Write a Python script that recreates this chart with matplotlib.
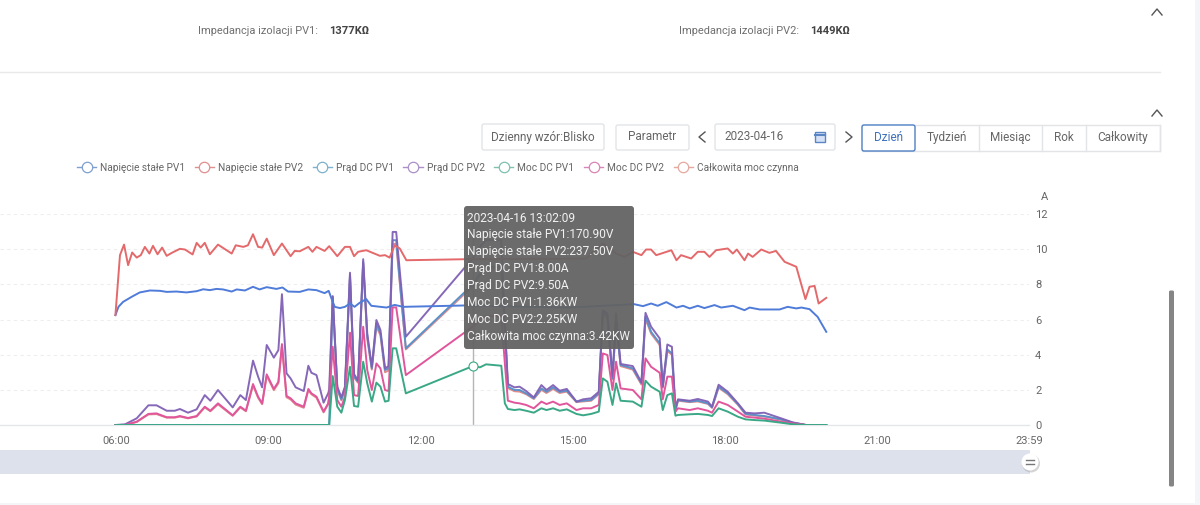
import matplotlib
matplotlib.use("Agg")
import matplotlib.pyplot as plt
from matplotlib.lines import Line2D
from matplotlib.patches import FancyBboxPatch, Rectangle, Circle

plt.rcParams['font.family'] = ['Roboto', 'DejaVu Sans']

# ---------- data (hours of day, values on the "A" scale) ----------
t_v2 = [5.99,6.08,6.16,6.24,6.32,6.41,6.49,6.57,6.66,6.73,6.82,6.91,7.00,7.10,7.26,7.36,7.51,7.59,7.67,7.75,7.85,8.01,8.28,8.36,8.51,8.60,8.70,8.80,8.88,8.97,9.11,9.27,9.44,9.52,9.62,9.79,9.87,9.95,10.11,10.20,10.36,10.51,10.61,10.69,10.77,10.93,11.20,11.30,11.39,11.49,11.59,11.72,12.90,14.50,15.26,15.59,15.85,16.02,16.18,16.35,16.44,16.54,16.64,16.74,16.94,17.04,17.13,17.33,17.46,17.59,17.69,17.82,18.05,18.15,18.23,18.38,18.45,18.54,18.71,18.87,19.00,19.17,19.40,19.58,19.66,19.76,19.84,19.99]
v_pv2 = [6.25,9.66,10.26,9.09,9.81,9.52,9.66,10.13,9.75,10.19,9.71,10.09,9.62,9.79,10.02,9.98,9.70,10.36,10.09,10.36,9.71,10.26,9.75,10.22,10.13,10.22,10.85,10.13,10.09,10.60,9.66,10.32,9.60,9.90,9.88,10.13,9.85,10.13,9.90,10.17,9.60,10.13,10.13,9.60,9.85,9.94,9.62,9.66,9.52,10.22,10.04,9.37,9.43,9.45,9.47,10.32,9.75,9.56,9.85,9.66,9.98,9.98,9.66,9.75,9.94,9.37,9.66,9.47,9.85,9.85,9.56,9.94,10.04,9.75,9.98,9.37,9.75,9.56,9.98,9.79,9.90,9.28,9.00,7.16,7.86,7.91,6.91,7.23]

t_v1 = [5.99,6.05,6.14,6.31,6.47,6.67,6.87,7.00,7.19,7.39,7.59,7.72,7.85,7.98,8.11,8.28,8.38,8.54,8.70,8.83,8.97,9.16,9.28,9.39,9.62,9.79,9.95,10.11,10.19,10.27,10.31,10.41,10.51,10.61,10.70,10.80,10.93,11.03,11.33,11.49,11.66,12.90,14.94,15.59,16.21,16.38,16.54,16.67,16.84,17.04,17.17,17.30,17.46,17.59,17.79,17.92,18.15,18.38,18.48,18.68,19.07,19.23,19.40,19.50,19.66,19.82,19.99]
v_pv1 = [6.25,6.72,7.00,7.29,7.54,7.65,7.63,7.57,7.59,7.54,7.61,7.72,7.67,7.74,7.71,7.59,7.71,7.65,7.86,7.71,7.84,7.74,7.82,7.59,7.57,7.71,7.67,7.50,7.63,7.00,6.72,6.65,6.72,6.91,6.72,6.95,7.16,6.78,6.68,6.83,6.72,6.80,6.68,6.78,6.87,6.76,6.91,6.78,6.99,6.68,6.78,6.63,6.78,6.65,6.82,6.68,6.78,6.53,6.68,6.57,6.57,6.72,6.63,6.68,6.59,6.15,5.30]

t_p = [5.99,6.18,6.41,6.64,6.80,7.00,7.16,7.26,7.42,7.59,7.75,7.86,8.01,8.30,8.45,8.56,8.70,8.80,8.88,8.97,9.11,9.20,9.27,9.36,9.44,9.54,9.70,9.79,9.85,9.95,10.09,10.18,10.20,
       10.27,10.36,10.44,10.51,10.61,10.69,10.77,10.87,10.95,11.04,11.13,11.21,11.30,11.37,11.45,11.52,11.71,
       13.03,13.17,13.29,13.59,13.66,
       13.72,13.85,13.95,14.08,14.23,14.38,14.48,14.61,14.74,14.88,15.07,15.20,15.36,15.51,15.59,15.68,15.78,15.85,15.94,16.18,16.35,16.43,16.54,16.71,16.77,16.86,16.95,17.02,17.07,17.30,17.46,17.66,17.74,17.87,18.05,18.25,18.40,18.58,18.77,19.10,19.33,19.59,19.99]
i_pv1 = [0,0,0,0,0,0,0,0,0,0,0,0,0,0,0,0,0,0,0,0,0,0,0,0,0,0,0,0,0,0,0,0,0,
         7.29,2.08,1.46,2.08,8.52,2.75,2.46,9.28,5.02,3.22,5.78,5.21,3.13,3.22,10.51,10.51,4.36,
         8.00,8.60,9.00,9.00,5.60,
         2.18,1.99,1.99,1.80,1.52,2.08,1.89,2.14,1.88,1.95,1.33,1.38,1.42,1.80,6.44,6.16,2.65,5.87,3.41,3.22,2.37,6.16,5.30,4.64,2.18,4.30,4.07,.85,1.42,1.33,1.38,1.23,1.00,2.18,1.80,1.19,.63,.57,.51,.32,.13,0,0]
i_pv2 = [0,.04,.38,1.12,1.12,.81,.81,.91,.70,.89,1.70,1.38,1.99,1.00,1.70,1.42,3.66,2.75,2.14,4.55,3.83,4.26,7.44,2.94,2.65,2.14,1.93,3.37,2.97,2.84,1.27,1.80,1.99,
         7.33,2.18,1.57,2.18,8.66,2.90,2.52,9.43,5.21,3.31,5.97,5.40,3.22,3.35,10.98,10.98,5.02,
         9.50,10.13,10.51,10.51,5.78,
         2.33,2.14,2.18,1.93,1.57,2.27,1.99,2.27,1.95,2.05,1.33,1.46,1.52,1.89,6.53,6.34,2.75,6.34,3.47,3.35,2.42,6.38,5.59,4.92,2.18,4.58,4.45,.95,1.46,1.38,1.48,1.33,1.04,2.29,1.89,1.23,.70,.66,.70,.38,.15,0,0]
p_pv1 = [0,0,0,0,0,0,0,0,0,0,0,0,0,0,0,0,0,0,0,0,0,0,0,0,0,0,0,0,0,0,0,0,0,
         2.78,1.04,.70,1.42,3.31,1.08,1.04,3.60,2.37,1.33,2.41,2.18,1.33,1.38,4.36,4.36,1.80,
         3.35,3.28,3.45,3.37,1.23,
         .91,.85,.89,.81,.70,.95,.85,.95,.81,.89,.63,.55,.63,.76,2.65,2.46,1.14,2.37,1.38,1.33,1.04,2.52,2.18,1.89,.85,1.70,1.80,.53,.57,.61,.63,.57,.51,.95,.76,.47,.32,.28,.25,.13,.04,0,0]
p_pv2 = [0,0,.19,.63,.66,.44,.44,.51,.40,.51,1.04,.81,1.23,.55,1.04,.81,2.33,1.61,1.23,2.88,2.05,2.46,4.60,1.65,1.52,1.23,1.04,2.05,1.80,1.61,.76,1.23,1.61,
         4.45,1.42,1.04,1.61,5.25,1.70,1.65,5.59,3.13,1.99,3.50,3.22,1.99,1.93,6.69,6.69,2.84,
         5.60,6.00,6.20,6.20,3.50,
         1.38,1.27,1.23,1.14,.95,1.33,1.19,1.33,1.14,1.23,.85,.95,.95,1.14,4.07,3.98,1.99,3.60,2.08,1.99,1.46,3.79,3.31,2.97,1.46,2.75,2.75,.76,.95,.85,.95,.81,.70,1.33,1.14,.76,.47,.42,.36,.19,.09,0,0]
p_total = [0,0,.17,.6,.62,.42,.42,.48,.38,.48,1.0,.78,1.18,.52,1.0,.78,2.25,1.55,1.18,2.8,1.98,2.38,4.5,1.58,1.45,1.16,.98,1.98,1.75,1.55,.72,1.18,1.55,
           7.2,2.0,1.4,2.0,8.4,2.7,2.4,9.2,4.9,3.15,5.6,5.1,3.0,3.1,10.3,10.3,4.3,
           7.9,8.5,8.9,8.9,5.5,
           2.1,1.92,1.9,1.75,1.48,2.0,1.82,2.05,1.82,1.9,1.3,1.34,1.38,1.75,6.35,6.1,2.6,5.8,3.35,3.15,2.3,6.05,5.2,4.55,2.12,4.2,4.0,.82,1.38,1.3,1.34,1.2,.98,2.12,1.75,1.15,.6,.54,.48,.3,.12,0,0]

names = ["Napięcie stałe PV1", "Napięcie stałe PV2", "Prąd DC PV1", "Prąd DC PV2",
         "Moc DC PV1", "Moc DC PV2", "Całkowita moc czynna"]
colors = ["#4f7bd9", "#e4696b", "#5b93c9", "#8060b5", "#3aa886", "#e0569c", "#e08a8c"]
legend_colors = ["#7f9fd0", "#e08f8f", "#7fb0cc", "#ab90c8", "#7fc0ae", "#d985b5", "#e5a8a0"]
tick_hours = [6, 9, 12, 15, 18, 21, 23.983]
tick_names = ["06:00", "09:00", "12:00", "15:00", "18:00", "21:00", "23:59"]
y_ticks = [0, 2, 4, 6, 8, 10, 12]
cursor_hour = 13.03
cursor_value = 3.35
tooltip_lines = ["2023-04-16 13:02:09", "Napięcie stałe PV1:170.90V", "Napięcie stałe PV2:237.50V",
                 "Prąd DC PV1:8.00A", "Prąd DC PV2:9.50A", "Moc DC PV1:1.36KW",
                 "Moc DC PV2:2.25KW", "Całkowita moc czynna:3.42KW"]

W, H = 1200, 505
fig = plt.figure(figsize=(W / 100, H / 100), dpi=100, facecolor="white")

# ---------- chart ----------
ax = fig.add_axes([0, 1 - 425 / H, 1029 / W, (425 - 214) / H], facecolor="none")
ax.set_xlim(3.717, 23.983)
ax.set_ylim(0, 12)
for s in ["top", "left", "right"]:
    ax.spines[s].set_visible(False)
ax.spines["bottom"].set_color("#e4e6ea")
ax.spines["bottom"].set_linewidth(1)
ax.yaxis.tick_right()
ax.set_yticks(y_ticks)
ax.set_xticks(tick_hours)
ax.set_xticklabels(tick_names)
ax.tick_params(axis="both", length=0, labelsize=8, labelcolor="#666666")
ax.tick_params(axis="x", pad=8)
ax.tick_params(axis="y", pad=4.4)
ax.set_axisbelow(True)
ax.grid(axis="y", color="#eeeeee", linestyle=(0, (3, 3)), linewidth=0.8)
ax.text(1.0118, 1.08, "A", transform=ax.transAxes, fontsize=8, color="#666666", ha="left", va="center")

lw = 1.4
ax.plot(t_v1, v_pv1, color=colors[0], lw=lw, zorder=4)
ax.plot(t_v2, v_pv2, color=colors[1], lw=lw, zorder=4)
ax.plot(t_p, p_total, color=colors[6], lw=lw, zorder=2)
ax.plot(t_p, i_pv1, color=colors[2], lw=lw, zorder=2.5)
ax.plot(t_p, i_pv2, color=colors[3], lw=lw, alpha=0.95, zorder=3)
ax.plot(t_p, p_pv2, color=colors[5], lw=lw, zorder=3)
ax.plot(t_p, p_pv1, color=colors[4], lw=lw, zorder=3.6)
ax.axvline(cursor_hour, color="#b5b5b5", lw=1, zorder=1)
ax.plot([cursor_hour], [cursor_value], marker="o", ms=6.5, mfc="white", mec=colors[4], mew=0.8, zorder=5)

handles = [Line2D([0], [0], color=c, lw=1, marker="o", ms=7.5, mfc="white", mec=c, mew=0.9) for c in legend_colors]
fig.legend(handles, names, loc="center left", bbox_to_anchor=(77 / W, 1 - 168 / H), ncol=7, frameon=False,
           fontsize=7.3, labelcolor="#666666", handlelength=1.88, handletextpad=0.4, columnspacing=0.95,
           borderpad=0, borderaxespad=0)

# ---------- page furniture, in pixels ----------
ui = fig.add_axes([0, 0, 1, 1], facecolor="none", zorder=10)
ui.set_xlim(0, W)
ui.set_ylim(H, 0)
ui.axis("off")

def label(x, y, s, size=8.5, color="#666666", ha="left", **kw):
    ui.text(x, y, s, fontsize=size, color=color, ha=ha, va="center", **kw)

def box(x0, y0, x1, y1, ec="#e2e4e8", rad=2, lw=1, fc="white"):
    ui.add_patch(FancyBboxPatch((x0 + rad, y0 + rad), x1 - x0 - 2 * rad, y1 - y0 - 2 * rad,
                                boxstyle=f"round,pad={rad},rounding_size={rad}", fc=fc, ec=ec, lw=lw))

def chevron(xs, ys, color="#555555"):
    ui.plot(xs, ys, color=color, lw=1)

label(198, 31, "Impedancja izolacji PV1:", size=7.9, color="#707070")
label(329, 31, "1377KΩ", size=8, color="#444444", weight="bold")
label(679, 31, "Impedancja izolacji PV2:", size=7.9, color="#707070")
label(810, 31, "1449KΩ", size=8, color="#444444", weight="bold")
ui.plot([0, 1160], [72, 72], color="#e9e9e9", lw=1)
chevron([1152, 1157, 1162], [15, 9, 15])
chevron([1152, 1157, 1162], [116, 110, 116])

box(482, 124, 604, 150)
label(543, 137, "Dzienny wzór:Blisko", ha="center")
box(616, 125, 689, 150)
label(652.5, 137, "Parametr", ha="center")
chevron([705, 699, 705], [132, 137, 142])
box(715, 124, 835, 150)
label(724, 137, "2023-04-16")
ui.add_patch(Rectangle((815, 132), 10, 10, fc="#d5e2f5", ec="#5b86c5", lw=1))
ui.plot([815, 825], [134.5, 134.5], color="#5b86c5", lw=1.5)
chevron([846, 852, 846], [132, 137, 142])

tabs = [("Dzień", 862, 915), ("Tydzień", 915, 979), ("Miesiąc", 979, 1042), ("Rok", 1042, 1086), ("Całkowity", 1086, 1160)]
ui.add_patch(Rectangle((862, 125), 298, 26, fc="white", ec="#e2e4e8", lw=1))
for name, x0, x1 in tabs[1:]:
    ui.plot([x1, x1], [125, 151], color="#e2e4e8", lw=1)
    label((x0 + x1) / 2, 137.5, name, ha="center")
box(862, 125, 915, 151, ec="#4f80c4", rad=2)
label(888.5, 137.5, "Dzień", ha="center", color="#3f72bd")

# zoom slider
ui.add_patch(Rectangle((0, 450), 1030, 24, fc="#dde1eb", ec="none"))
ui.add_patch(Circle((1031, 463.5), 9, fc="#aaaaaa", ec="none", alpha=0.5))
ui.add_patch(Circle((1030, 462), 8.5, fc="white", ec="none"))
ui.plot([1026, 1034], [460, 460], color="#777777", lw=1)
ui.plot([1026, 1034], [464, 464], color="#777777", lw=1)

# scrollbar and page edge
ui.add_patch(FancyBboxPatch((1170.5, 292), 2, 193, boxstyle="round,pad=1.5", fc="#858585", ec="none"))
ui.add_patch(Rectangle((1195, 0), 5, H, fc="#f4f5f8", ec="none"))
ui.add_patch(Rectangle((0, 503), 1200, 2, fc="#f4f5f8", ec="none"))

# tooltip
box(464, 206, 634, 349, ec="none", rad=3, fc="#636363")
ui.patches[-1].set_alpha(0.95)
for i, line in enumerate(tooltip_lines):
    label(467, 218 + i * 16.9, line, size=8.6, color="#f2f2f2")

fig.savefig("out.png", dpi=100)
